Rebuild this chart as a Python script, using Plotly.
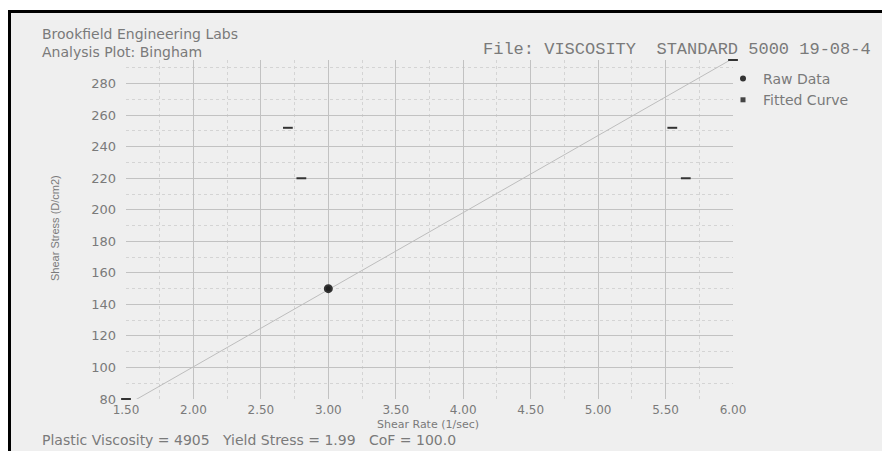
import plotly.graph_objects as go

# ---- data ----
raw_x = [1.50, 2.70, 2.80, 3.00, 5.55, 5.65, 6.00]
raw_y = [80, 252, 220, 150, 252, 220, 295]
fit_x = [1.50, 6.00]
fit_y = [76, 296]
x_ticks = [1.5, 2.0, 2.5, 3.0, 3.5, 4.0, 4.5, 5.0, 5.5, 6.0]
y_ticks = [80, 100, 120, 140, 160, 180, 200, 220, 240, 260, 280]

# the page body has an 8px margin; work in window pixels and shift
OFF = 8
W, H = 890 - OFF, 451 - OFF
L, R, T, B = 126, 733, 60, 399   # plot area in window pixels


def px(x):
    return (x - L) / (R - L)


def py(y):
    return (B - y) / (B - T)


TXT = "#7a7a7a"
SANS = "DejaVu Sans"

fig = go.Figure()

fig.add_trace(go.Scatter(
    x=fit_x, y=fit_y, mode="lines",
    line=dict(color="#bdbdbd", width=1),
    showlegend=False, hoverinfo="skip"))

symbols = ["circle" if (x, y) == (3.0, 150) else "line-ew" for x, y in zip(raw_x, raw_y)]
fig.add_trace(go.Scatter(
    x=raw_x, y=raw_y, mode="markers", cliponaxis=False,
    marker=dict(symbol=symbols, size=7, color="#222222",
                line=dict(color="#333333", width=2)),
    showlegend=False))

# legend entries
fig.add_trace(go.Scatter(x=[None], y=[None], mode="markers", name="Raw Data",
                         marker=dict(symbol="circle", size=6, color="#333333")))
fig.add_trace(go.Scatter(x=[None], y=[None], mode="markers", name="Fitted Curve",
                         marker=dict(symbol="square", size=5, color="#444444")))

grid_major = "#c2c2c2"
grid_minor = "#d4d4d4"

fig.update_xaxes(
    range=[1.5, 6.0], tickvals=x_ticks, ticktext=[f"{v:.2f}" for v in x_ticks],
    showgrid=True, gridcolor=grid_major, gridwidth=1,
    minor=dict(dtick=0.25, tick0=1.75, showgrid=True, gridcolor=grid_minor, griddash="dot", gridwidth=1),
    zeroline=False, showline=False, ticks="",
    tickfont=dict(family=SANS, size=12, color=TXT), ticklabelstandoff=2)
fig.update_yaxes(
    range=[80, 295], tickvals=y_ticks,
    showgrid=True, gridcolor=grid_major, gridwidth=1,
    minor=dict(dtick=10, tick0=90, showgrid=True, gridcolor=grid_minor, griddash="dot", gridwidth=1),
    zeroline=False, showline=False, ticks="",
    tickfont=dict(family=SANS, size=13, color=TXT), ticklabelstandoff=9)

sp3 = "\u00a0\u00a0 "
ann = [
    dict(text="Brookfield Engineering Labs<br>Analysis Plot: Bingham", x=px(40), y=py(43),
         xanchor="left", yanchor="middle", align="left",
         font=dict(family=SANS, size=14, color=TXT)),
    dict(text="File: VISCOSITY\u00a0 STANDARD 5000 19-08-4", x=px(481), y=py(49),
         xanchor="left", yanchor="middle",
         font=dict(family="Liberation Mono", size=17, color=TXT)),
    dict(text="Shear Rate (1/sec)", x=px(428), y=py(424), xanchor="center", yanchor="middle",
         font=dict(family=SANS, size=11, color=TXT)),
    dict(text="Shear Stress (D/cm2)", x=px(55), y=py(228), xanchor="center", yanchor="middle",
         textangle=-90, font=dict(family="Liberation Sans", size=11, color=TXT)),
    dict(text="Plastic Viscosity = 4905" + sp3 + "Yield Stress = 1.99" + sp3 + "CoF = 100.0",
         x=px(40), y=py(440), xanchor="left", yanchor="middle",
         font=dict(family=SANS, size=14, color=TXT)),
]
for a in ann:
    a.update(xref="paper", yref="paper", showarrow=False)

shapes = [
    dict(type="rect", xref="paper", yref="paper", x0=px(0), x1=px(900), y0=py(0), y1=py(10),
         fillcolor="white", line=dict(width=0), layer="above"),
    dict(type="line", xref="paper", yref="paper", x0=px(8), x1=px(900), y0=py(11.5), y1=py(11.5),
         line=dict(color="black", width=3), layer="above"),
    dict(type="line", xref="paper", yref="paper", x0=px(9.5), x1=px(9.5), y0=py(10), y1=py(460),
         line=dict(color="black", width=3), layer="above"),
]

fig.update_layout(
    width=W, height=H,
    margin=dict(l=L - OFF, r=(W + OFF) - R, t=T - OFF, b=(H + OFF) - B),
    paper_bgcolor="#efefef", plot_bgcolor="#efefef",
    annotations=ann, shapes=shapes,
    showlegend=True,
    legend=dict(x=px(723), y=py(63), xanchor="left", yanchor="top",
                bgcolor="rgba(0,0,0,0)", font=dict(family=SANS, size=14, color=TXT),
                itemwidth=30, tracegroupgap=0),
)

fig.write_html("out.html")
